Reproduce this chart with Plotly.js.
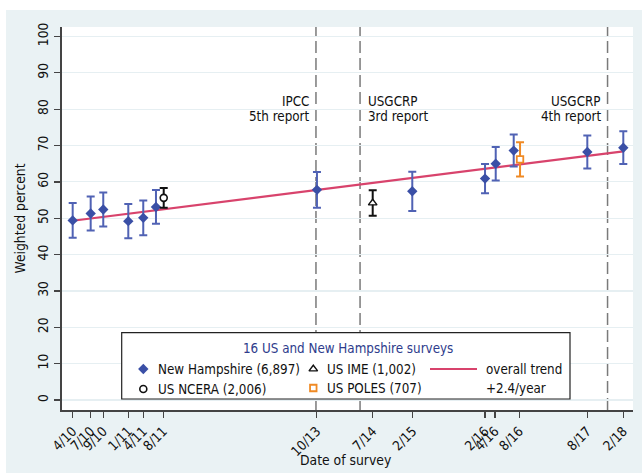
<!DOCTYPE html>
<html><head><meta charset="utf-8">
<script src="https://cdn.plot.ly/plotly-3.0.1.min.js"></script>
<style>html,body{margin:0;padding:0;background:#fff}</style>
</head><body><div id="chart" style="width:642px;height:473px"></div>
<script>
// ---- data ----
const tickLabels = ['4/10','7/10','9/10','1/11','4/11','8/11','10/13','7/14','2/15','2/16','4/16','8/16','8/17','2/18'];
const tickYears  = [2010.250,2010.506,2010.685,2011.041,2011.254,2011.539,2013.721,2014.518,2015.087,2016.116,2016.258,2016.604,2017.571,2018.083];

const nhDates   = [2010.250,2010.506,2010.685,2011.041,2011.254,2011.435,2013.725,2015.081,2016.116,2016.268,2016.524,2017.571,2018.083];
const nhPercent = [49.4,51.3,52.4,49.2,50.1,53.1,57.8,57.4,60.9,65.0,68.6,68.2,69.4];
const nhError   = [4.8,4.7,4.7,4.7,4.75,4.65,4.9,5.4,4.0,4.6,4.4,4.55,4.5];

const ncDates = [2011.545], ncPercent = [55.6], ncError = [2.7];
const imeDates = [2014.518], imePercent = [54.2], imeError = [3.5];
const polesDates = [2016.614], polesPercent = [66.2], polesError = [4.7];

const trendDates = [2010.250, 2018.083], trendPercent = [49.3, 68.4];

const reportTop = ['IPCC','USGCRP','USGCRP'];
const reportBottom = ['5th report','3rd report','4th report'];
const reportDates = [2013.711, 2014.338, 2017.859];
const reportSide = ['right','left','right'];

const legendTitle = '16 US and New Hampshire surveys';
const legendNames = ['New Hampshire (6,897)','US NCERA (2,006)','US IME (1,002)','US POLES (707)','overall trend','+2.4/year'];
const xTitle = 'Date of survey', yTitle = 'Weighted percent';

// ---- geometry / style ----
const W = 642, H = 473, L = 62, R = 9, T = 27, B = 63;
const pw = W - L - R, ph = H - T - B;
const xr = [2010.098, 2018.221], yr = [-2.75, 102.6];
const px2x = p => xr[0] + (p - L) / pw * (xr[1] - xr[0]);
const py2y = p => yr[0] + (H - B - p) / ph * (yr[1] - yr[0]);
const pxP = p => (p - L) / pw;
const pyP = p => (H - B - p) / ph;

const FONT = '"DejaVu Sans Condensed","Liberation Sans",sans-serif';
const BLUE = '#3a4fa6', BLUE_ERR = '#5062b4', PINK = '#d8436c', ORANGE = '#f08a24';
const TXT = 13.3;

const traces = [
  {x: trendDates, y: trendPercent, mode: 'lines', line: {color: PINK, width: 2.2}, hoverinfo: 'skip'},
  {x: nhDates, y: nhPercent, mode: 'markers', marker: {symbol: 'diamond', size: 8, color: BLUE},
   error_y: {type: 'data', array: nhError, color: BLUE_ERR, thickness: 2, width: 4}},
  {x: ncDates, y: ncPercent, mode: 'markers', marker: {symbol: 'circle', size: 7, color: '#fff', line: {color: '#111', width: 1.6}},
   error_y: {type: 'data', array: ncError, color: '#111', thickness: 2, width: 4}},
  {x: imeDates, y: imePercent, mode: 'markers', marker: {symbol: 'triangle-up', size: 7.5, color: '#fff', line: {color: '#111', width: 1.4}},
   error_y: {type: 'data', array: imeError, color: '#111', thickness: 2, width: 4}},
  {x: polesDates, y: polesPercent, mode: 'markers', marker: {symbol: 'square', size: 6.5, color: '#fff', line: {color: ORANGE, width: 1.8}},
   error_y: {type: 'data', array: polesError, color: ORANGE, thickness: 2, width: 4}},
  // legend glyphs
  {x: [px2x(143.3)], y: [py2y(369)], mode: 'markers', marker: {symbol: 'diamond', size: 8, color: BLUE}, hoverinfo: 'skip'},
  {x: [px2x(143.3)], y: [py2y(389)], mode: 'markers', marker: {symbol: 'circle', size: 7, color: '#fff', line: {color: '#111', width: 1.6}}, hoverinfo: 'skip'},
  {x: [px2x(313.3)], y: [py2y(369)], mode: 'markers', marker: {symbol: 'triangle-up', size: 7.5, color: '#fff', line: {color: '#111', width: 1.4}}, hoverinfo: 'skip'},
  {x: [px2x(313.3)], y: [py2y(388)], mode: 'markers', marker: {symbol: 'square', size: 6.5, color: '#fff', line: {color: ORANGE, width: 1.8}}, hoverinfo: 'skip'},
  {x: [px2x(430), px2x(477)], y: [py2y(369), py2y(369)], mode: 'lines', line: {color: PINK, width: 2}, hoverinfo: 'skip'}
];

const shapes = [
  {type: 'rect', xref: 'paper', yref: 'paper', x0: pxP(6), x1: pxP(W + 5), y0: pyP(H + 5), y1: pyP(10),
   fillcolor: '#eaf2f4', line: {width: 0}, layer: 'below'},
  {type: 'rect', xref: 'paper', yref: 'paper', x0: 0, x1: 1, y0: 0, y1: 1,
   fillcolor: '#ffffff', line: {width: 0}, layer: 'below'}
];
reportDates.forEach(d => shapes.push({type: 'line', xref: 'x', yref: 'paper', x0: d, x1: d, y0: 0, y1: 1,
  line: {color: '#7a7a7a', width: 1.5, dash: '12px,5px'}, layer: 'below'}));
shapes.push({type: 'rect', xref: 'x', yref: 'y', x0: px2x(121.7), x1: px2x(570), y0: py2y(399), y1: py2y(332.7),
  fillcolor: '#ffffff', line: {color: '#222', width: 1.2}, layer: 'between'});

const annotations = [];
reportDates.forEach((d, i) => {
  const right = reportSide[i] === 'right';
  [reportTop[i], reportBottom[i]].forEach((t, j) => annotations.push({
    x: d, xref: 'x', y: pyP(j === 0 ? 101.7 : 116), yref: 'paper', text: t, showarrow: false,
    xanchor: right ? 'right' : 'left', yanchor: 'middle', xshift: right ? -5 : 6,
    font: {family: FONT, size: TXT, color: '#111'}
  }));
});
annotations.push({x: pxP(347.5), y: pyP(348.3), xref: 'paper', yref: 'paper', text: legendTitle, showarrow: false,
  xanchor: 'center', yanchor: 'middle', font: {family: FONT, size: TXT, color: '#2e3c8c'}});
const legPos = [[155.5, 369], [155.5, 389], [324.5, 369], [324.5, 388], [483.5, 369], [483.5, 388]];
legendNames.forEach((t, i) => annotations.push({x: pxP(legPos[i][0]), y: pyP(legPos[i][1]), xref: 'paper', yref: 'paper',
  text: t, showarrow: false, xanchor: 'left', yanchor: 'middle', font: {family: FONT, size: TXT, color: '#111'}}));
annotations.push({x: pxP(345.5), y: pyP(460), xref: 'paper', yref: 'paper', text: xTitle, showarrow: false,
  xanchor: 'center', yanchor: 'middle', font: {family: FONT, size: 13.8, color: '#111'}});

const layout = {
  width: W, height: H, margin: {l: L, r: R, t: T, b: B},
  paper_bgcolor: '#ffffff', plot_bgcolor: 'rgba(0,0,0,0)',
  showlegend: false, font: {family: FONT, size: 13.5, color: '#111'},
  xaxis: {range: xr, tickvals: tickYears, ticktext: tickLabels, tickangle: -45, showgrid: false, zeroline: false,
    showline: true, linecolor: '#444', linewidth: 2, ticks: 'outside', ticklen: 6, tickwidth: 1.3, tickcolor: '#444',
    tickfont: {family: FONT, size: 13.5, color: '#111'}},
  yaxis: {range: yr, tickvals: [0,10,20,30,40,50,60,70,80,90,100], tickangle: -90, showgrid: true, gridcolor: '#e6eff2', gridwidth: 1.2,
    zeroline: false, showline: true, linecolor: '#444', linewidth: 2, ticks: 'outside', ticklen: 6, tickwidth: 1.3, tickcolor: '#444',
    tickfont: {family: FONT, size: 13.8, color: '#111'},
    title: {text: yTitle, font: {family: FONT, size: 13.8, color: '#111'}, standoff: 7}},
  shapes: shapes, annotations: annotations
};

Plotly.newPlot('chart', traces, layout, {staticPlot: true, displayModeBar: false});
</script></body></html>
